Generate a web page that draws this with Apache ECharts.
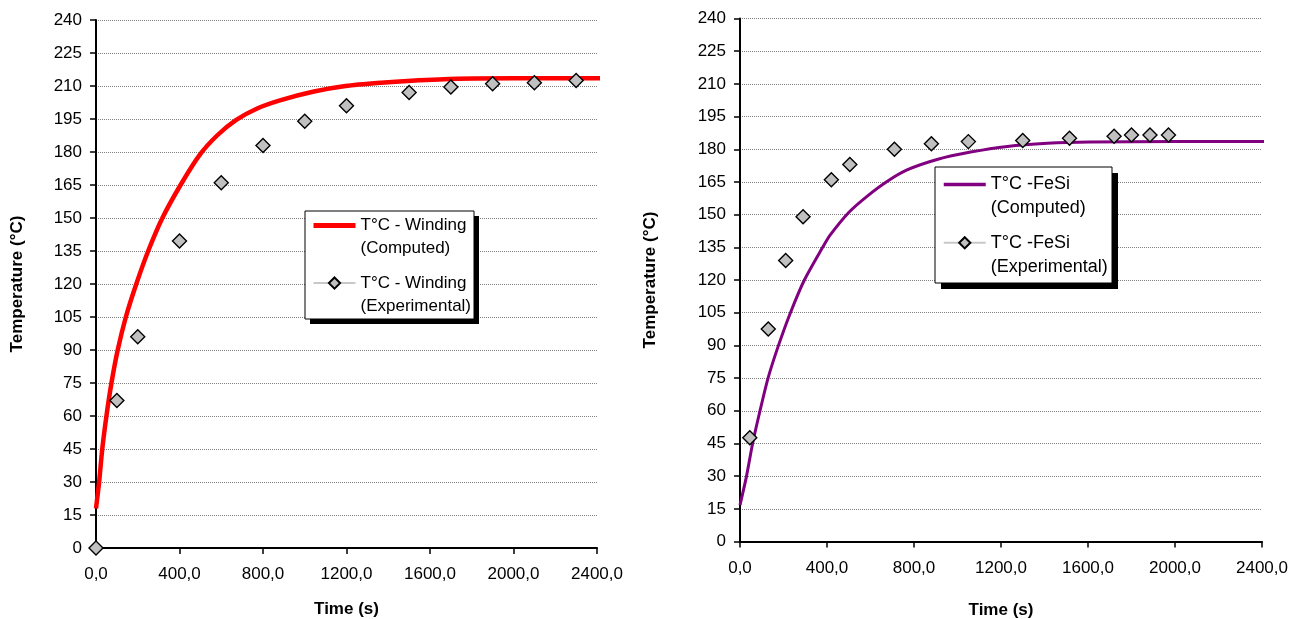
<!DOCTYPE html>
<html lang="en">
<head>
<meta charset="UTF-8">
<title>Winding / FeSi temperature rise</title>
<script src="https://cdn.jsdelivr.net/npm/echarts@6/dist/echarts.min.js"></script>
<style>
    html, body { margin: 0; padding: 0; background: #fff; }
    #main { width: 1308px; height: 619px; }
</style>
</head>
<body>
<div id="main"></div>
<script>
    // left chart: winding, computed curve
    const windCompTime = [0, 15, 30, 50, 74, 104, 143, 193, 250, 318, 405, 495, 580, 670, 772, 881, 1039, 1195, 1365, 1510, 1732, 2000, 2440]
    const windCompTemp = [18, 30, 45, 60, 75, 90, 105, 120, 135, 150, 165, 178.5, 187.5, 194.5, 199.8, 203.5, 207.4, 210, 211.5, 212.4, 213.3, 213.5, 213.5]
    // left chart: winding, measured points
    const windExpTime = [0, 100, 200, 400, 600, 800, 1000, 1200, 1500, 1700, 1900, 2100, 2300]
    const windExpTemp = [0, 67, 96, 139.5, 166, 183, 194, 201, 207, 209.5, 211, 211.5, 212.5]

    // right chart: FeSi, computed curve
    const fesiCompTime = [0, 30, 58, 92, 129, 177, 232, 296, 380, 415, 500, 584, 676, 768, 906, 1060, 1229, 1413, 1608, 2000, 2428]
    const fesiCompTemp = [16.7, 30, 45, 60, 75, 90, 105, 120, 135, 140.7, 151, 158.4, 165.2, 170.5, 175.3, 178.7, 181.3, 182.7, 183.3, 183.5, 183.5]
    // right chart: FeSi, measured points
    const fesiExpTime = [45, 130, 210, 290, 420, 505, 710, 880, 1050, 1300, 1515, 1720, 1800, 1885, 1970]
    const fesiExpTemp = [47.6, 97.5, 129, 149, 166, 173, 180, 182.5, 183.5, 184, 185, 186, 186.5, 186.5, 186.5]

    const timeTicks = { min: 0, max: 2400, interval: 400 }
    const tempTicks = { min: 0, max: 240, interval: 15 }

    const windCompName = 'T°C - Winding\n(Computed)'
    const windExpName = 'T°C - Winding\n(Experimental)'
    const fesiCompName = 'T°C -FeSi\n(Computed)'
    const fesiExpName = 'T°C -FeSi\n(Experimental)'

    const font = 'Arial, "Liberation Sans", sans-serif'
    const pairs = (xs, ys) => xs.map((x, i) => [x, ys[i]])

    function timeAxis(gridIndex, gap) {
        return {
            gridIndex, type: 'value', ...timeTicks,
            name: 'Time (s)', nameLocation: 'middle', nameGap: gap,
            nameTextStyle: { fontFamily: font, fontSize: 17, fontWeight: 'bold', color: '#000' },
            axisLine: { lineStyle: { color: '#000', width: 2 } },
            axisTick: { length: 6, lineStyle: { color: '#000', width: 1.5 } },
            axisLabel: {
                formatter: v => v.toFixed(1).replace('.', ','),
                fontFamily: font, fontSize: 17, color: '#000', margin: 18,
                showMinLabel: true, showMaxLabel: true
            },
            splitLine: { show: false }
        }
    }

    function tempAxis(gridIndex, gap) {
        return {
            gridIndex, type: 'value', ...tempTicks,
            name: 'Temperature (°C)', nameLocation: 'middle', nameGap: gap, nameRotate: 90,
            nameTextStyle: { fontFamily: font, fontSize: 17, fontWeight: 'bold', color: '#000' },
            axisLine: { lineStyle: { color: '#000', width: 2 } },
            axisTick: { length: 6, lineStyle: { color: '#000', width: 1.5 } },
            axisLabel: { fontFamily: font, fontSize: 17, color: '#000', margin: 14 },
            splitLine: { show: true, lineStyle: { color: '#808080', type: 'dotted', width: 1 } }
        }
    }

    function computed(name, idx, xs, ys, color, width) {
        return {
            name, type: 'line', xAxisIndex: idx, yAxisIndex: idx,
            data: pairs(xs, ys), symbol: 'none', smooth: 0.25,
            clip: false, lineStyle: { color, width }, itemStyle: { color }
        }
    }

    function measured(name, idx, xs, ys) {
        return {
            name, type: 'line', xAxisIndex: idx, yAxisIndex: idx,
            data: pairs(xs, ys), symbol: 'diamond', symbolSize: 14, clip: false,
            lineStyle: { width: 0, opacity: 0 },
            itemStyle: { color: '#c0c0c0', borderColor: '#000', borderWidth: 1.4 }
        }
    }

    function legendBox(x, y, w, h, off) {
        return [
            { type: 'rect', z: 5, shape: { x: x + off, y: y + off, width: w, height: h }, style: { fill: '#000' } },
            { type: 'rect', z: 5, shape: { x, y, width: w, height: h }, style: { fill: '#fff', stroke: '#000', lineWidth: 1 } }
        ]
    }

    // an empty first line puts the icon level with the first text line
    function legend(left, top, names, size, lh, gap, lineWidth) {
        return {
            left, top, orient: 'vertical', selectedMode: false, z: 10, padding: 0,
            itemWidth: 42, itemHeight: 14, itemGap: gap,
            formatter: name => '\n' + name,
            textStyle: { fontFamily: font, fontSize: size, color: '#000', lineHeight: lh },
            data: [
                { name: names[0], itemStyle: { opacity: 0 }, lineStyle: { width: lineWidth } },
                { name: names[1], lineStyle: { color: '#c8c8c8', width: 2, opacity: 1 } }
            ]
        }
    }

    const chart = echarts.init(document.getElementById('main'))
    chart.setOption({
        animation: false,
        backgroundColor: '#fff',
        grid: [
            { left: 96, top: 20, width: 501, height: 528, outerBoundsMode: 'none', containLabel: false },
            { left: 740, top: 18.5, width: 522, height: 523, outerBoundsMode: 'none', containLabel: false }
        ],
        xAxis: [timeAxis(0, 53), timeAxis(1, 60)],
        yAxis: [tempAxis(0, 70), tempAxis(1, 81)],
        legend: [
            legend(311, 191, [windCompName, windExpName], 17, 23, -11.4, 5),
            legend(942, 148.5, [fesiCompName, fesiExpName], 18, 24, -13.7, 3.5)
        ],
        graphic: { elements: [...legendBox(305, 211, 169, 108, 5), ...legendBox(935, 167, 177, 116, 6)] },
        series: [
            computed(windCompName, 0, windCompTime, windCompTemp, '#ff0000', 4.5),
            measured(windExpName, 0, windExpTime, windExpTemp),
            computed(fesiCompName, 1, fesiCompTime, fesiCompTemp, '#800080', 3),
            measured(fesiExpName, 1, fesiExpTime, fesiExpTemp)
        ]
    })
</script>
</body>
</html>
